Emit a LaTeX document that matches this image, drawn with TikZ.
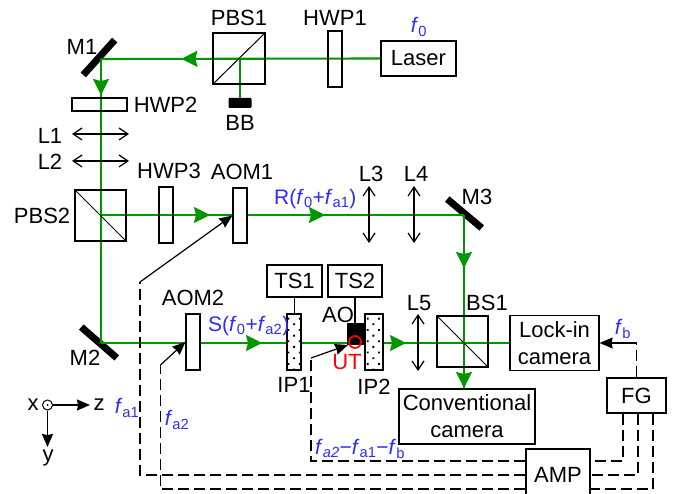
\documentclass[tikz,border=0pt]{standalone}
\usepackage{fontspec}
\setmainfont{Liberation Sans}
\usetikzlibrary{positioning,arrows.meta,decorations.markings,patterns.meta}
\definecolor{beamgreen}{RGB}{0,150,0}
\definecolor{freqblue}{RGB}{45,45,245}
\newcommand{\freq}[1]{\textit{f}\textsubscript{#1}}
\tikzset{
  optbox/.style ={rectangle, draw=black, line width=1.2pt, inner sep=0pt, align=center},
  wave/.style   ={optbox, fill=white},
  dots/.style   ={optbox, preaction={fill=white}, pattern={Dots[distance=8pt,angle=45,radius=1.3pt]}},
  mirror/.style ={rectangle, fill=black, minimum width=47pt, minimum height=7pt, inner sep=0pt},
  lbl/.style    ={inner sep=0pt, align=center},
  frq/.style    ={lbl, text=freqblue, font=\fontsize{21}{25}\selectfont},
  beam/.style   ={draw=beamgreen, line width=2.1pt},
  beamtip/.style={postaction={decorate, decoration={markings,
      mark=at position #1pt with {\arrow[beamgreen]{Stealth[length=16pt,width=16pt,inset=2pt]}}}}},
  lens/.style   ={line width=1.2pt, {Straight Barb[length=9pt,width=12pt]}-{Straight Barb[length=9pt,width=12pt]}},
  sig/.style    ={line width=1.2pt, dash pattern=on 11pt off 5pt},
  sigarr/.style ={line width=1.2pt, -{Stealth[length=13pt,width=11pt,inset=1pt]}},
}
\begin{document}
\begin{tikzpicture}[x=1pt,y=-1pt,font=\fontsize{22}{27}\selectfont]
\useasboundingbox (0,0) rectangle (675,494);
% beam corners
\coordinate (m1c) at (101,59);
\coordinate (m2c) at (101,343);
\coordinate (m3c) at (464,215);
\node[optbox, minimum width=75, minimum height=35] (laser) at (418.5,58.5) {Laser};
\node[optbox, minimum width=89, minimum height=55] (lockcam) at (554.5,343) {Lock-in\\camera};
\node[optbox, minimum width=136, minimum height=55] (convcam) at (467,416.5) {Conventional\\camera};
\node[optbox, minimum width=59, minimum height=35] (fg) at (636.5,395.5) {FG};
\node[optbox, minimum width=64, minimum height=52] (amp) at (558,475) {AMP};
\node[mirror, rotate=48] (ma) at (99,57.5) {};
\node[mirror, rotate=-41] (mb) at (99,342.5) {};
\node[mirror, rotate=-40, minimum width=45pt] (mc) at (464.5,213.5) {};
\node[rectangle, fill=black, rounded corners=1pt, minimum width=23, minimum height=10] (bb) at (240,103) {};
% beams
\draw[beam, beamtip=199] (laser.west) -- (m1c);
\draw[beam, beamtip=36] (m1c) -- (m2c);
\draw[beam] (bb.north) -- (240,59);
\draw[beam, beamtip=109, beamtip=224] (101,215) -- (m3c);
\draw[beam, beamtip=53, beamtip=173] (m3c) -- (m3c |- convcam.north);
\draw[beam, beamtip=161, beamtip=305, beamtip=409] (m2c) -- (lockcam.west);
% plates and cubes
\node[optbox, minimum width=14, minimum height=56] (hwpa) at (335,59) {};
\node[optbox, minimum width=55, minimum height=13] (hwpb) at (99.5,104.5) {};
\node[optbox, minimum width=14, minimum height=56] (hwpc) at (166,215) {};
\node[wave, minimum width=14, minimum height=55] (aoma) at (240,215.5) {};
\node[wave, minimum width=14, minimum height=56] (aomb) at (193,342) {};
\node[optbox, minimum width=52, minimum height=51] (pbsa) at (239,58.5) {};
\node[optbox, minimum width=51, minimum height=51] (pbsb) at (100.5,215.5) {};
\node[optbox, minimum width=51, minimum height=51] (bsa) at (462.5,341.5) {};
\draw[line width=1pt] (pbsa.south west) -- (pbsa.north east);
\draw[line width=1pt] (pbsb.north west) -- (pbsb.south east);
\draw[line width=1pt] (bsa.north west) -- (bsa.south east);
\node[dots, minimum width=14, minimum height=56] (ipa) at (294,342) {};
\node[dots, minimum width=18, minimum height=56] (ipb) at (374,342) {};
\node[optbox, minimum width=55, minimum height=32] (tsa) at (294.5,281) {TS1};
\node[optbox, minimum width=54, minimum height=32] (tsb) at (355,281) {TS2};
\node[rectangle, fill=black, minimum width=18, minimum height=22, inner sep=0pt] (ao) at (356,334) {};
\node[circle, draw=red, line width=1.8pt, minimum size=12, inner sep=0pt] (ut) at (355,342) {};
\draw[line width=1.2pt] (tsa.south) -- (tsa.south |- ipa.north);
\draw[line width=1.2pt] (tsb.south) -- (tsb.south |- ao.north);
% lenses
\coordinate (la) at (72,134);  \coordinate (laa) at (129,134);
\coordinate (lb) at (72,161);  \coordinate (lbb) at (129,161);
\coordinate (lc) at (369,186); \coordinate (lcc) at (369,243);
\coordinate (ld) at (414,186); \coordinate (ldd) at (414,243);
\coordinate (le) at (418,314); \coordinate (lee) at (418,371);
\draw[lens] (la) -- (laa);
\draw[lens] (lb) -- (lbb);
\draw[lens] (lc) -- (lcc);
\draw[lens] (ld) -- (ldd);
\draw[lens] (le) -- (lee);
% drive lines
\coordinate (aoab) at (140,282);
\coordinate (aobb) at (160.5,365);
\coordinate (utb) at (311,358);
\coordinate (fbb) at (636.5,343);
\coordinate (utt) at (348,345);
\draw[sig] ([xshift=-13.5pt]fg.south) |- ([yshift=14pt]amp.east);
\draw[sig] ([xshift=1.5pt]fg.south) |- (amp.east);
\draw[sig] ([xshift=16.5pt]fg.south) |- ([yshift=-14pt]amp.east);
\draw[sig] ([yshift=14pt]amp.west) -| (utb);
\draw[sig] (amp.west) -| (aoab);
\draw[sig] ([yshift=-14pt]amp.west) -| (aobb);
\draw[sig] (fg.north) -- (fbb);
\draw[sigarr] (utb) -- (utt);
\draw[sigarr] (aoab) -- (aoma.west);
\draw[sigarr] (aobb) -- (aomb.west);
\draw[sigarr] (fbb) -- (lockcam.east);
% axes
\node[circle, draw=black, line width=1pt, minimum size=10, inner sep=0pt] (ax) at (47.5,405) {};
\node[circle, fill=black, minimum size=2, inner sep=0pt] (axd) at (47.5,405) {};
\coordinate (axz) at (90,405);
\coordinate (axy) at (47.5,447);
\draw[sigarr] (ax.east) -- (axz);
\draw[sigarr] (ax.south) -- (axy);
% labels
\node[lbl, above=6pt of pbsa] (pbsal) {PBS1};
\node[lbl, above=5pt of hwpa] (hwpal) {HWP1};
\node[frq] (foa) at (419,27) {\textit{f}\textsubscript{0}};
\node[lbl] (mal) at (82,47) {M1};
\node[lbl, below=7pt of bb] (bbl) {BB};
\node[lbl, right=6pt of hwpb] (hwpbl) {HWP2};
\node[lbl] (lal) at (50,136) {L1};
\node[lbl] (lbl) at (50,162) {L2};
\node[lbl, left=4pt of pbsb] (pbsbl) {PBS2};
\node[lbl, above=7pt of hwpc, xshift=3pt] (hwpcl) {HWP3};
\node[lbl, above=7pt of aoma, xshift=2pt] (aomal) {AOM1};
\node[frq, anchor=west] (rl) at (274,199) {R(\textit{f}\textsubscript{0}+\freq{a1})};
\node[lbl] (lcl) at (371,174) {L3};
\node[lbl] (ldl) at (416,174) {L4};
\node[lbl] (mcl) at (477,197) {M3};
\node[lbl] (mbl) at (85,358) {M2};
\node[lbl, above=7pt of aomb] (aombl) {AOM2};
\node[frq, anchor=west] (sl) at (208,326) {S(\textit{f}\textsubscript{0}+\freq{a2})};
\node[lbl, below=7pt of ipa] (ipal) {IP1};
\node[lbl, below=8pt of ipb] (ipbl) {IP2};
\node[lbl] (aol) at (338,315) {AO};
\node[lbl, text=red] (utl) at (347,362) {UT};
\node[lbl] (lel) at (419,303) {L5};
\node[lbl] (bsl) at (487,303) {BS1};
\node[frq] (fbl) at (623,329) {\freq{b}};
\node[lbl] (axxl) at (33,405) {x};
\node[lbl] (axzl) at (99,405) {z};
\node[lbl] (axyl) at (48,458) {y};
\node[frq] (fal) at (127,408) {\freq{a1}};
\node[frq] (fbbl) at (177,420) {\freq{a2}};
\node[frq, anchor=west] (fdl) at (315,449) {\textit{f}\textsubscript{\textit{a2}}−\freq{a1}−\freq{b}};
\end{tikzpicture}
\end{document}
